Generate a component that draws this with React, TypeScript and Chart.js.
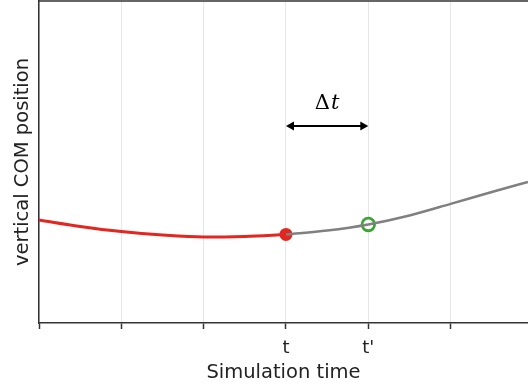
import React, { useEffect, useRef } from 'react';
import { Chart, registerables } from 'chart.js';
Chart.register(...registerables);

// ---- data ----
const xTicks = [0, 1, 2, 3, 4, 5];
const xTickLabels = ['', '', '', 't', "t'", ''];
const xMax = 5.94;
const yMax = 10;

const pastX = [0, 0.5, 1, 1.5, 2, 2.5, 3];
const pastY = [3.2, 3.0, 2.84, 2.73, 2.67, 2.69, 2.75];

const futureX = [3, 3.5, 4, 4.5, 5, 5.5, 5.94];
const futureY = [2.75, 2.87, 3.06, 3.34, 3.7, 4.07, 4.38];

const currentPoint = { x: 3, y: 2.75 };
const nextPoint = { x: 4, y: 3.06 };

const deltaFrom = 3;
const deltaTo = 4;
const deltaArrowY = 6.12;
const deltaLabelY = 6.8;

const FONT = "'DejaVu Sans', sans-serif";

const framePlugin = {
  id: 'framePlugin',
  afterDraw(chart: any) {
    const { ctx, chartArea, scales } = chart;
    const xs = scales.x;
    const ys = scales.y;
    ctx.save();
    // top frame line
    ctx.strokeStyle = '#333';
    ctx.lineWidth = 1.5;
    ctx.beginPath();
    ctx.moveTo(chartArea.left, chartArea.top);
    ctx.lineTo(chartArea.right, chartArea.top);
    ctx.stroke();

    // double-headed arrow
    const x1 = xs.getPixelForValue(deltaFrom);
    const x2 = xs.getPixelForValue(deltaTo);
    const ay = ys.getPixelForValue(deltaArrowY);
    ctx.strokeStyle = '#000';
    ctx.fillStyle = '#000';
    ctx.lineWidth = 2;
    const hl = 8;
    const hw = 4.5;
    ctx.beginPath();
    ctx.moveTo(x1 + hl - 1, ay);
    ctx.lineTo(x2 - hl + 1, ay);
    ctx.stroke();
    ctx.beginPath();
    ctx.moveTo(x1, ay);
    ctx.lineTo(x1 + hl, ay - hw);
    ctx.lineTo(x1 + hl, ay + hw);
    ctx.closePath();
    ctx.fill();
    ctx.beginPath();
    ctx.moveTo(x2, ay);
    ctx.lineTo(x2 - hl, ay - hw);
    ctx.lineTo(x2 - hl, ay + hw);
    ctx.closePath();
    ctx.fill();

    // Δt label
    const ly = ys.getPixelForValue(deltaLabelY);
    const cx = (x1 + x2) / 2;
    ctx.textBaseline = 'middle';
    ctx.font = "21px 'DejaVu Serif', serif";
    const w1 = ctx.measureText('Δ').width;
    ctx.font = "italic 21px 'DejaVu Serif', serif";
    const w2 = ctx.measureText('t').width;
    const start = cx - (w1 + w2 + 1) / 2;
    ctx.textAlign = 'left';
    ctx.font = "21px 'DejaVu Serif', serif";
    ctx.fillText('Δ', start, ly);
    ctx.font = "italic 21px 'DejaVu Serif', serif";
    ctx.fillText('t', start + w1 + 1, ly);
    ctx.restore();
  },
};

export default function App() {
  const ref = useRef<HTMLCanvasElement>(null);
  useEffect(() => {
    document.body.style.margin = '0';
    const canvas = ref.current!;
    const chart = new Chart(canvas, {
      type: 'line',
      data: {
        datasets: [
          {
            data: pastX.map((x, i) => ({ x, y: pastY[i] })),
            borderColor: '#e3261f',
            borderWidth: 3,
            pointRadius: 0,
            cubicInterpolationMode: 'monotone',
            fill: false,
          },
          {
            data: futureX.map((x, i) => ({ x, y: futureY[i] })),
            borderColor: '#808080',
            borderWidth: 2.5,
            pointRadius: 0,
            cubicInterpolationMode: 'monotone',
            fill: false,
          },
          {
            data: [currentPoint],
            showLine: false,
            pointRadius: 6.5,
            pointBackgroundColor: '#e3261f',
            pointBorderColor: '#e3261f',
            pointBorderWidth: 0,
          },
          {
            data: [nextPoint],
            showLine: false,
            pointRadius: 6.3,
            pointBackgroundColor: '#ffffff',
            pointBorderColor: '#3ba535',
            pointBorderWidth: 2.8,
          },
        ],
      },
      options: {
        responsive: false,
        animation: false,
        layout: { autoPadding: false, padding: { top: 1, right: 0, left: 0, bottom: 0 } },
        plugins: { legend: { display: false }, tooltip: { enabled: false } },
        scales: {
          x: {
            type: 'linear',
            min: 0,
            max: xMax,
            afterBuildTicks: (s: any) => {
              s.ticks = xTicks.map((v) => ({ value: v }));
            },
            afterFit: (s: any) => {
              s.height = 67;
            },
            ticks: {
              autoSkip: false,
              maxRotation: 0,
              padding: 9,
              color: '#222',
              font: { family: FONT, size: 18 },
              callback: (v: any) => {
                const i = xTicks.indexOf(Number(v));
                return i >= 0 ? xTickLabels[i] : '';
              },
            },
            grid: {
              color: '#e6e6e6',
              lineWidth: 1,
              tickLength: 6,
              tickColor: '#333',
              tickWidth: 1.5,
            },
            border: { color: '#333', width: 1.5 },
            title: {
              display: true,
              text: 'Simulation time',
              color: '#222',
              font: { family: FONT, size: 19.5 },
              padding: { top: 0, bottom: 5 },
            },
          },
          y: {
            type: 'linear',
            min: 0,
            max: yMax,
            afterFit: (s: any) => {
              s.width = 39;
            },
            ticks: { display: false },
            grid: { drawOnChartArea: false, drawTicks: false },
            border: { color: '#333', width: 1.5 },
            title: {
              display: true,
              text: 'vertical COM position',
              color: '#222',
              font: { family: FONT, size: 19.5 },
              padding: { top: 11, bottom: 0 },
            },
          },
        },
      },
      plugins: [framePlugin],
    });
    return () => chart.destroy();
  }, []);
  return (
    <div style={{ width: 528, height: 390 }}>
      <canvas ref={ref} width={528} height={390} style={{ display: 'block' }} />
    </div>
  );
}
